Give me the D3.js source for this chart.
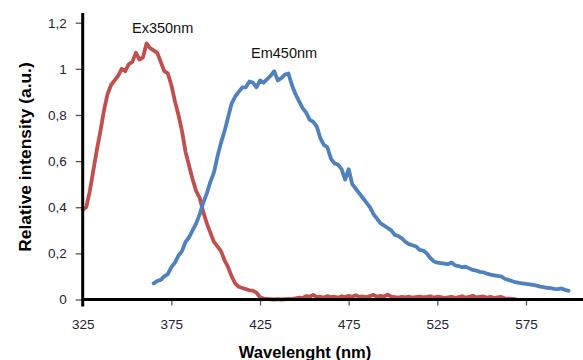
<!DOCTYPE html>
<html><head><meta charset="utf-8">
<script src="https://cdn.jsdelivr.net/npm/d3@7/dist/d3.min.js"></script>
<style>body{margin:0;background:#fff;overflow:hidden}</style>
</head><body><svg id="c" width="583" height="360"></svg>
<script>
const xTicks = [325, 375, 425, 475, 525, 575];
const yTicks = [0, 0.2, 0.4, 0.6, 0.8, 1, 1.2];
const yTickLabels = ["0", "0,2", "0,4", "0,6", "0,8", "1", "1,2"];
const seriesNames = ["Ex350nm", "Em450nm"];

// Excitation spectrum, every 2 nm from 325 nm
const exStart = 325, exStep = 2;
const exValues = [
 0.39,0.40,0.47,0.56,0.65,0.73,0.82,0.89,0.93,0.95,
 0.97,1.00,0.99,1.02,1.03,1.07,1.04,1.05,1.11,1.09,
 1.08,1.07,1.03,0.99,0.98,0.93,0.86,0.80,0.73,0.64,
 0.58,0.52,0.47,0.44,0.38,0.33,0.29,0.25,0.23,0.21,
 0.17,0.14,0.10,0.07,0.055,0.05,0.045,0.04,0.038,0.03,
 0.01,0.004,0.003,0.001,0.000,0.002,0.000,0.001,0.003,0.002,
 0.005,0.008,0.006,0.015,0.012,0.020,0.010,0.012,0.008,0.015,
 0.010,0.012,0.008,0.014,0.010,0.016,0.012,0.018,0.011,0.013,
 0.010,0.015,0.020,0.012,0.016,0.013,0.021,0.012,0.010,0.008,
 0.011,0.009,0.012,0.008,0.010,0.012,0.009,0.011,0.014,0.008,
 0.012,0.010,0.006,0.009,0.011,0.007,0.010,0.014,0.008,0.012,
 0.016,0.009,0.011,0.013,0.007,0.012,0.006,0.009,0.011,0.005,
 0.004,0.003,0.002
];

// Emission spectrum, every 2 nm from 365 nm
const emStart = 365, emStep = 2;
const emValues = [
 0.07,0.08,0.085,0.10,0.11,0.14,0.16,0.19,0.21,0.25,
 0.27,0.30,0.33,0.37,0.42,0.46,0.51,0.55,0.62,0.68,
 0.73,0.79,0.85,0.88,0.90,0.92,0.92,0.945,0.94,0.92,
 0.95,0.94,0.955,0.97,0.99,0.95,0.96,0.975,0.98,0.93,
 0.89,0.86,0.83,0.81,0.78,0.77,0.75,0.70,0.67,0.66,
 0.61,0.59,0.585,0.565,0.52,0.565,0.50,0.48,0.46,0.44,
 0.42,0.40,0.37,0.35,0.33,0.32,0.31,0.30,0.28,0.275,
 0.265,0.25,0.24,0.235,0.23,0.215,0.212,0.20,0.18,0.165,
 0.16,0.158,0.156,0.153,0.16,0.148,0.145,0.14,0.142,0.135,
 0.128,0.125,0.12,0.118,0.112,0.108,0.105,0.102,0.10,0.09,
 0.085,0.08,0.075,0.072,0.07,0.068,0.066,0.063,0.06,0.056,
 0.054,0.05,0.049,0.046,0.045,0.048,0.042,0.038
];

const svg = d3.select("#c");
const x = d3.scaleLinear().domain([325, 575]).range([82.7, 526]);
const y = d3.scaleLinear().domain([0, 1.2]).range([299.5, 22.7]);

const exData = exValues.map((v, i) => [exStart + i * exStep, v]);
const emData = emValues.map((v, i) => [emStart + i * emStep, v]);

const line = d3.line().x(d => x(d[0])).y(d => y(d[1]));

// x-axis ticks & labels
const xAxis = d3.axisBottom(x).tickValues(xTicks).tickSize(6).tickPadding(14).tickFormat(d3.format("d"));
const gx = svg.append("g").attr("transform", `translate(0,${y(0)})`).call(xAxis);
gx.select(".domain").remove();
gx.selectAll(".tick line").attr("stroke", "#555").attr("stroke-width", 1.3);
gx.selectAll(".tick text").attr("fill", "#1e2235").attr("font-family", "Liberation Sans, Arial, sans-serif").attr("font-size", "13.5px");

// y-axis ticks & labels
const yAxis = d3.axisLeft(y).tickValues(yTicks).tickSize(7).tickPadding(9).tickFormat((d, i) => yTickLabels[i]);
const gy = svg.append("g").attr("transform", `translate(${x(325)},0)`).call(yAxis);
gy.select(".domain").remove();
gy.selectAll(".tick line").attr("stroke", "#555").attr("stroke-width", 1.3);
gy.selectAll(".tick text").attr("fill", "#1e2235").attr("font-family", "Liberation Sans, Arial, sans-serif").attr("font-size", "13.5px");

// series
svg.append("path").datum(exData).attr("d", line).attr("fill", "none")
  .attr("stroke", "#c0504d").attr("stroke-width", 3.8).attr("stroke-linejoin", "round").attr("stroke-linecap", "round");
svg.append("path").datum(emData).attr("d", line).attr("fill", "none")
  .attr("stroke", "#4f81bd").attr("stroke-width", 3.8).attr("stroke-linejoin", "round").attr("stroke-linecap", "round");

// axis lines
svg.append("line").attr("x1", x(325)).attr("x2", 583).attr("y1", y(0)).attr("y2", y(0))
  .attr("stroke", "#000").attr("stroke-width", 3);
svg.append("line").attr("x1", x(325)).attr("x2", x(325)).attr("y1", 13).attr("y2", y(0) + 7)
  .attr("stroke", "#000").attr("stroke-width", 3);

// series labels
svg.append("text").attr("x", 132).attr("y", 33).text(seriesNames[0])
  .attr("font-family", "Liberation Sans, Arial, sans-serif").attr("font-size", "14.5px").attr("fill", "#111");
svg.append("text").attr("x", 251).attr("y", 58).text(seriesNames[1])
  .attr("font-family", "Liberation Sans, Arial, sans-serif").attr("font-size", "14.5px").attr("fill", "#111");

// axis titles
svg.append("text").attr("transform", "translate(30.5,157) rotate(-90)").attr("text-anchor", "middle")
  .text("Relative intensity (a.u.)")
  .attr("font-family", "Liberation Sans, Arial, sans-serif").attr("font-weight", "bold").attr("font-size", "17.4px").attr("fill", "#000");
svg.append("text").attr("x", 305).attr("y", 358).attr("text-anchor", "middle")
  .text("Wavelenght (nm)")
  .attr("font-family", "Liberation Sans, Arial, sans-serif").attr("font-weight", "bold").attr("font-size", "16.5px").attr("fill", "#000");
</script>
</body></html>
